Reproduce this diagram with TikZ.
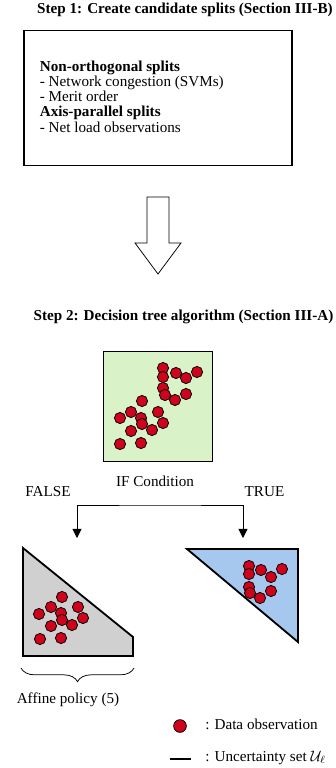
\documentclass[tikz,border=0pt]{standalone}
\usepackage{amsmath,amssymb}
\usepackage{fontspec}
\setmainfont{Liberation Serif}
\usepackage{tikz}
\usetikzlibrary{positioning,arrows.meta,decorations.pathreplacing}

\definecolor{condgreen}{RGB}{218,242,199}
\definecolor{falsegray}{RGB}{208,208,208}
\definecolor{trueblue}{RGB}{166,200,238}
\definecolor{obsred}{RGB}{206,4,28}

\begin{document}
\begin{tikzpicture}[x=0.66pt,y=-0.66pt,>={Triangle[length=6pt,width=6pt]},
  title/.style={font=\bfseries},
  region/.style={draw=black,line width=1.2pt},
  dot/.style={draw=black,line width=0.5pt,fill=obsred}]

\useasboundingbox (0,0) rectangle (335,768);


\node[title] (step1) at (185,10) {Step 1: Create candidate splits (Section III-B)};
\node[region,minimum width=177pt,minimum height=89pt] (cands) at (158,98) {};
\node[anchor=west,align=left,font=\fontsize{10}{10.1}\selectfont] (splits) at (34.5,96.5)
  {\textbf{Non-orthogonal splits}\\- Network congestion (SVMs)\\- Merit order\\
   \textbf{Axis-parallel splits}\\- Net load observations};


\draw[line width=0.5pt] (147,197) -- (169,197) -- (169,243) -- (181,243) -- (158,274)
  -- (135,243) -- (147,243) -- cycle;


\node[title] (step2) at (183.5,317) {Step 2: Decision tree algorithm (Section III-A)};
\node[region,fill=condgreen,minimum width=72pt,minimum height=72.5pt,inner sep=0pt] (cond) at (158,406.5) {};
\node (ifc) at (155,481) {IF Condition};

\foreach \x/\y in {163/368, 163/377, 176/373, 186/378, 197/372, 163/388, 165/395, 175/400, 186/394,
                   142/401, 131/412, 120/418, 141/418, 158/412, 142/424, 163/423, 131/431, 152/430,
                   120/444, 141/443}
  \draw[dot] (\x,\y) circle[radius=3.7pt];


\node (false) at (48,492) {FALSE};
\node (true) at (264.5,492) {TRUE};
\coordinate (split) at (160,505);
\coordinate (fend) at (77,538);
\coordinate (tend) at (243,538);
\draw[<->,line width=0.6pt] (fend) |- (split) -| (tend);


\draw[region,fill=falsegray] (23,548) -- (23,656) -- (133,656) -- (133,637) -- cycle;
\foreach \x/\y in {62/597, 51/607, 39/614, 61/613, 78/607, 62/620, 83/618, 51/626, 72/625, 40/639, 61/638}
  \draw[dot] (\x,\y) circle[radius=3.7pt];

\draw[region,fill=trueblue] (187,549) -- (298,549) -- (298,642) -- cycle;
\foreach \x/\y in {249/566, 249/574, 261/570, 271/577, 282/569, 249/587, 250/593, 260/598, 271/591}
  \draw[dot] (\x,\y) circle[radius=3.7pt];


\draw[decorate,decoration={brace,mirror,amplitude=9pt},line width=0.5pt] (21,668) -- (134,668);
\node (affine) at (68,700) {Affine policy (5)};


\draw[dot] (180,726) circle[radius=4.2pt];
\node[anchor=west] (obs) at (200,724.5) {: Data observation};
\draw[line width=1.4pt] (170,759) -- (191,759);
\node[anchor=west] (unc) at (200,757.5) {: Uncertainty set $\mathcal{U}_\ell$};

\end{tikzpicture}
\end{document}
